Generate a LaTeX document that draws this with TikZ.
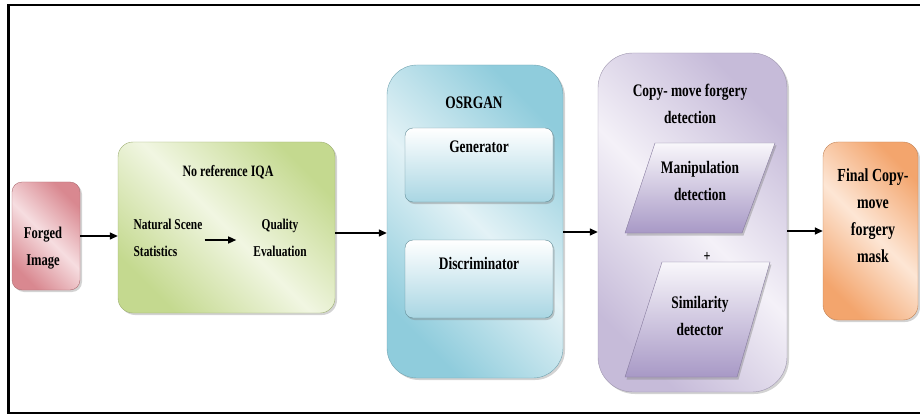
\documentclass[tikz,border=0pt]{standalone}
\usepackage{fontspec}
\setmainfont{Liberation Serif}[FakeStretch=0.76]
\usetikzlibrary{arrows.meta,shadows,calc}

\definecolor{pinkedge}{HTML}{D98890}
\definecolor{pinklight}{HTML}{F6DDE0}
\definecolor{greenedge}{HTML}{C4D98F}
\definecolor{greenlight}{HTML}{F1F6E2}
\definecolor{blueedge}{HTML}{8FCCDC}
\definecolor{bluelight}{HTML}{E3F2F6}
\definecolor{blueinner}{HTML}{A9D6E3}
\definecolor{purpleedge}{HTML}{C6BBD9}
\definecolor{purplelight}{HTML}{F4F1F8}
\definecolor{paradark}{HTML}{A899C6}
\definecolor{orangeedge}{HTML}{F3A56D}
\definecolor{orangelight}{HTML}{FDE6D5}

\tikzset{
  panel/.style={rectangle, draw=#1edge!80!black, line width=0.4pt,
    left color=#1edge, right color=#1edge, middle color=#1light,
    shading angle=135,
    drop shadow={shadow xshift=2pt, shadow yshift=-2pt, opacity=0.35}},
  innerbox/.style={rectangle, rounded corners=8pt, draw=blueedge!70!black,
    line width=0.4pt, top color=white, bottom color=blueinner,
    minimum width=148pt, drop shadow={shadow xshift=1.5pt, shadow yshift=-2pt, opacity=0.4}},
  paraface/.style={draw=paradark!80!black, line width=0.4pt,
    top color=purplelight!60!white, bottom color=paradark,
    drop shadow={shadow xshift=1.5pt, shadow yshift=-2.5pt, opacity=0.4}},
  lbl/.style={inner sep=2pt, align=center,
    font=\bfseries\fontsize{#1}{27}\selectfont},
  lbl/.default=17.6,
  arr/.style={line width=1.4pt, -{Triangle[length=8pt,width=7pt]}},
}

\begin{document}
\begin{tikzpicture}[x=1pt,y=-1pt]
\useasboundingbox (0,0) rectangle (920,414);

% outer frame (open on the right)
\draw[line width=2.5pt] (920,5) -- (8.5,5) -- (8.5,413) -- (920,413);

% input image
\node[panel=pink, rounded corners=10pt, minimum width=68pt, minimum height=108pt]
  (forged) at (46,236) {};
\node[lbl=16.5] (forgedtxt) at (43,248) {Forged\\Image};

% no-reference IQA stage
\node[panel=green, rounded corners=15pt, minimum width=217pt, minimum height=171pt]
  (iqabox) at (226.5,227.5) {};
\node[lbl=15.8] (iqatitle) at (228,172) {No reference IQA};
\node[lbl=15, align=left] (nss) at (168,238) {Natural Scene\\Statistics};
\node[lbl=15] (quality) at (280,238) {Quality\\Evaluation};

% OSRGAN stage
\node[panel=blue, rounded corners=30pt, minimum width=176pt, minimum height=313pt]
  (gan) at (475,221.5) {};
\node[lbl] (gantitle) at (474,103) {OSRGAN};
\node[innerbox, minimum height=74pt] (gen) at (479,165) {};
\node[lbl] (gentxt) at (479,147) {Generator};
\node[innerbox, minimum height=78pt] (disc) at (479,279) {};
\node[lbl] (disctxt) at (479,263) {Discriminator};

% copy-move forgery detection stage
\node[panel=purple, rounded corners=35pt, minimum width=189pt, minimum height=339pt]
  (cmfd) at (692.5,222.5) {};
\node[lbl] (cmfdtitle) at (690,104) {Copy- move forgery\\detection};
\path[paraface] (655,143) -- (775,143) -- (742,233) -- (625,233) -- cycle;
\node[lbl] (maniptxt) at (700,181) {Manipulation\\detection};
\node[lbl=16] (plus) at (707,257) {+};
\path[paraface] (662,262) -- (770,262) -- (737,377) -- (625,377) -- cycle;
\node[lbl] (simtxt) at (700,316) {Similarity\\detector};

% output mask
\node[panel=orange, rounded corners=15pt, minimum width=95pt, minimum height=178pt]
  (mask) at (870.5,231) {};
\node[lbl=18.4] (masktxt) at (873,216) {Final Copy-\\move\\forgery\\mask};

% connectors
\draw[arr] (forged.east) -- (forged.east -| iqabox.west);
\draw[arr, shorten >=15pt] ([yshift=-2pt]nss.east) -- ([yshift=-2pt]nss.east -| quality.west);
\draw[arr] ([yshift=-5.5pt]iqabox.east) -- ([yshift=-5.5pt]iqabox.east -| gan.west);
\draw[arr] ([yshift=-10.5pt]gan.east) -- ([yshift=-10.5pt]gan.east -| cmfd.west);
\draw[arr] (mask.west -| cmfd.east) -- (mask.west);
\end{tikzpicture}
\end{document}
